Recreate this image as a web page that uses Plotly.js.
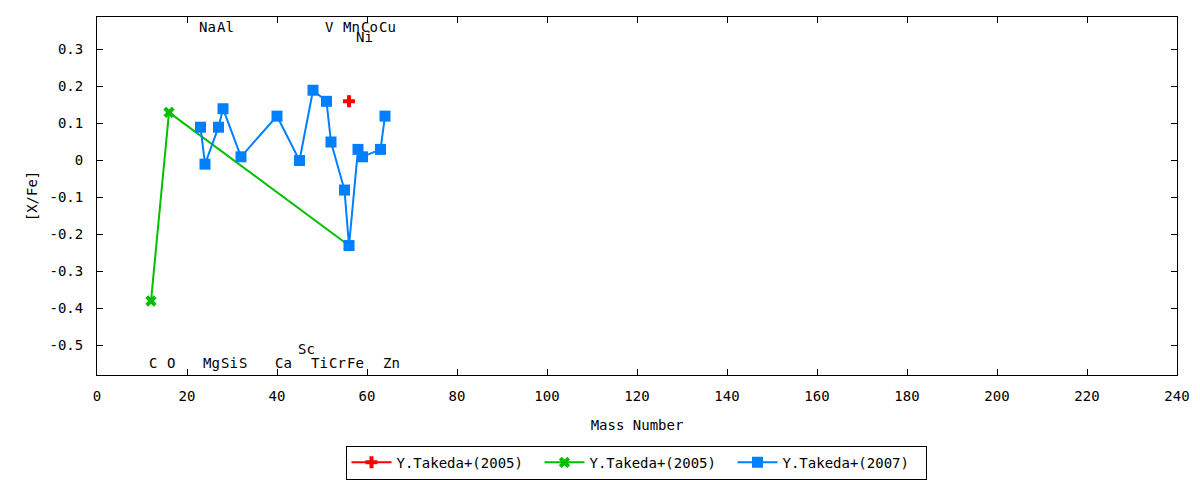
<!DOCTYPE html>
<html>
<head>
<meta charset="utf-8">
<script src="https://cdn.plot.ly/plotly-3.0.1.min.js"></script>
<style>
  html, body { margin: 0; padding: 0; background: #fff; }
  #chart { width: 1200px; height: 480px; }
</style>
</head>
<body>
<div id="chart"></div>
<script>
// Y.Takeda+(2005), red
var redMass = [56];
var redVal = [0.16];

// Y.Takeda+(2005), green
var greenMass = [12, 16, 56];
var greenVal = [-0.38, 0.13, -0.23];

// Y.Takeda+(2007), blue
var blueMass = [23, 24, 27, 28, 32, 40, 45, 48, 51, 52, 55, 56, 58, 59, 63, 64];
var blueVal = [0.09, -0.01, 0.09, 0.14, 0.01, 0.12, 0.00, 0.19, 0.16, 0.05, -0.08, -0.23, 0.03, 0.01, 0.03, 0.12];

// element labels along the top and bottom of the frame
var elemNames = ["Na", "Al", "V", "Mn", "Co", "Cu", "Ni", "C", "O", "Mg", "Si", "S", "Ca", "Ti", "Cr", "Fe", "Zn", "Sc"];
var elemMass  = [23, 27, 51, 55, 59, 63, 58, 12, 16, 24, 28, 32, 40, 48, 52, 56, 64, 45];
var elemY     = [0.36, 0.36, 0.36, 0.36, 0.36, 0.36, 0.333, -0.547, -0.547, -0.547, -0.547, -0.547, -0.547, -0.547, -0.547, -0.547, -0.547, -0.51];

var xTicks = [0, 20, 40, 60, 80, 100, 120, 140, 160, 180, 200, 220, 240];
var yTicks = [-0.5, -0.4, -0.3, -0.2, -0.1, 0, 0.1, 0.2, 0.3];
var yTickText = ["-0.5", "-0.4", "-0.3", "-0.2", "-0.1", "0", "0.1", "0.2", "0.3"];

var font = "DejaVu Sans Mono, monospace";

var data = [
  {
    x: redMass, y: redVal, name: "Y.Takeda+(2005)",
    type: "scatter", mode: "lines+markers",
    line: {color: "#ff0000", width: 2},
    marker: {symbol: "cross", size: 10, color: "#ff0000"}
  },
  {
    x: greenMass, y: greenVal, name: "Y.Takeda+(2005)",
    type: "scatter", mode: "lines+markers",
    line: {color: "#00c000", width: 2},
    marker: {symbol: "x", size: 10, color: "#00c000"}
  },
  {
    x: blueMass, y: blueVal, name: "Y.Takeda+(2007)",
    type: "scatter", mode: "lines+markers",
    line: {color: "#0080ff", width: 2},
    marker: {symbol: "square", size: 11, color: "#0080ff"}
  }
];

var annotations = elemNames.map(function(n, i){
  return {
    x: elemMass[i], y: elemY[i], text: n,
    showarrow: false, xanchor: "left", yanchor: "middle", xshift: -4,
    font: {family: font, size: 14, color: "#000"}
  };
});

var layout = {
  width: 1200, height: 480,
  margin: {l: 97, r: 23, t: 17, b: 105},
  paper_bgcolor: "#fff", plot_bgcolor: "#fff",
  font: {family: font, size: 14, color: "#000"},
  showlegend: true,
  legend: {
    orientation: "h", xref: "container", yref: "container",
    x: 0.53, xanchor: "center", y: 0.036, yanchor: "middle",
    entrywidth: 138, itemwidth: 40,
    bordercolor: "#000", borderwidth: 1, bgcolor: "#fff",
    font: {family: font, size: 14, color: "#000"}
  },
  xaxis: {
    range: [0, 240], tickvals: xTicks,
    showgrid: false, zeroline: false,
    showline: true, linecolor: "#000", linewidth: 1, mirror: "ticks",
    ticks: "inside", ticklen: 6, tickcolor: "#000",
    ticklabelstandoff: 8,
    title: {text: "Mass Number", standoff: 17, font: {family: font, size: 14}}
  },
  yaxis: {
    range: [-0.58, 0.388], tickvals: yTicks, ticktext: yTickText,
    showgrid: false, zeroline: false,
    showline: true, linecolor: "#000", linewidth: 1, mirror: "ticks",
    ticks: "inside", ticklen: 6, tickcolor: "#000",
    ticklabelstandoff: 10,
    title: {text: "[X/Fe]", standoff: 8, font: {family: font, size: 14}}
  },
  annotations: annotations
};

Plotly.newPlot("chart", data, layout, {displayModeBar: false, staticPlot: true});
</script>
</body>
</html>
